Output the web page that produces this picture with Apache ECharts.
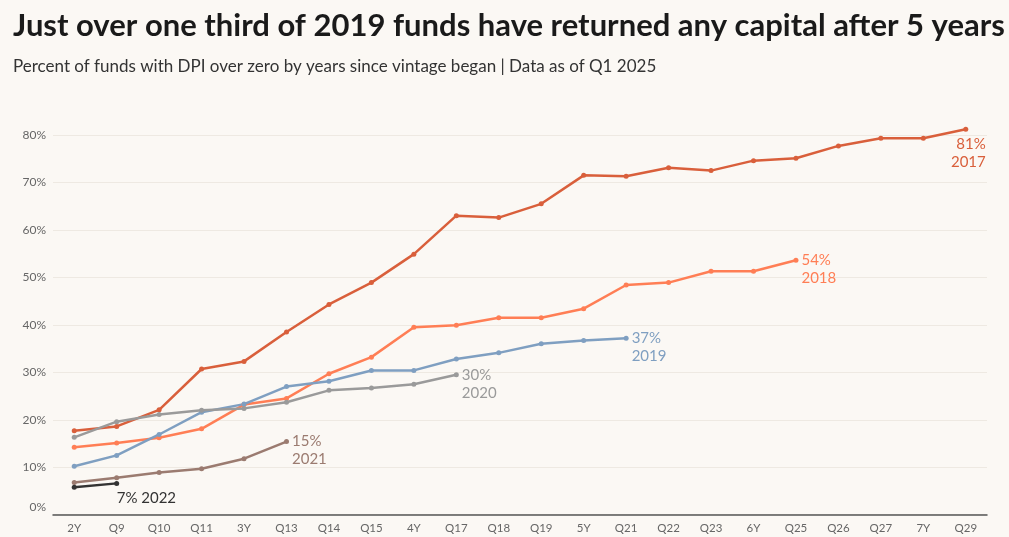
<!DOCTYPE html>
<html>
    <head>
        <title>dpi_over_zero</title>
        <script src="https://cdn.jsdelivr.net/npm/echarts@6/dist/echarts.min.js"></script>
        <style>
            html, body { margin: 0; padding: 0; background: #fbf8f4; }
            #main { width: 1009px; height: 537px; }
        </style>
    </head>
    <body>
        <div id="main"></div>
        <script>
            // quarters since vintage began
            var periods = ['2Y', 'Q9', 'Q10', 'Q11', '3Y', 'Q13', 'Q14', 'Q15', '4Y', 'Q17', 'Q18',
                           'Q19', '5Y', 'Q21', 'Q22', 'Q23', '6Y', 'Q25', 'Q26', 'Q27', '7Y', 'Q29'];
            var yTicks = [0, 10, 20, 30, 40, 50, 60, 70, 80];

            // percent of funds with DPI > 0
            var v2017 = [17.7, 18.6, 22.1, 30.7, 32.3, 38.5, 44.3, 48.9, 54.9, 63.0, 62.6,
                         65.5, 71.5, 71.3, 73.1, 72.5, 74.6, 75.1, 77.7, 79.3, 79.3, 81.2];
            var v2018 = [14.2, 15.1, 16.2, 18.1, 23.2, 24.5, 29.7, 33.2, 39.5, 39.9, 41.5,
                         41.5, 43.4, 48.4, 48.9, 51.3, 51.3, 53.6];
            var v2019 = [10.2, 12.5, 16.9, 21.6, 23.3, 27.0, 28.1, 30.4, 30.4, 32.8, 34.1,
                         36.0, 36.7, 37.2];
            var v2020 = [16.3, 19.6, 21.1, 22.0, 22.4, 23.7, 26.2, 26.7, 27.5, 29.5];
            var v2021 = [6.8, 7.8, 8.9, 9.7, 11.8, 15.4];
            var v2022 = [5.8, 6.6];

            var font = 'Lato, "Open Sans", sans-serif';

            function make_series(name, values, color, lbl) {
                var data = values.slice();
                var last = data.length - 1;
                var lab = {
                    show: true,
                    color: color,
                    fontFamily: font,
                    fontSize: 15,
                    lineHeight: 18,
                    formatter: function (p) { return Math.round(p.value) + '%\n' + name; }
                };
                for (var k in lbl) lab[k] = lbl[k];
                data[last] = { value: values[last], label: lab };
                return {
                    name: name,
                    type: 'line',
                    data: data,
                    clip: false,
                    symbol: 'circle',
                    symbolSize: 5,
                    lineStyle: { width: 2.5, color: color },
                    itemStyle: { color: color },
                    label: { show: false },
                    emphasis: { disabled: true },
                    z: 3
                };
            }

            var myChart = echarts.init(document.getElementById('main'));
            var option = {
                backgroundColor: '#fbf8f4',
                animation: false,
                title: {
                    text: 'Just over one third of 2019 funds have returned any capital after 5 years',
                    subtext: 'Percent of funds with DPI over zero by years since vintage began | Data as of Q1 2025',
                    left: 8,
                    top: -3,
                    itemGap: 4,
                    textStyle: { fontFamily: font, fontSize: 31, fontWeight: 'bold', color: '#1a1a1a' },
                    subtextStyle: { fontFamily: font, fontSize: 17, color: '#333' }
                },
                grid: { left: 53, right: 22, top: 135, bottom: 21 },
                xAxis: {
                    type: 'category',
                    data: periods,
                    boundaryGap: true,
                    axisTick: { show: false },
                    axisLine: { lineStyle: { color: '#555', width: 1.5 } },
                    axisLabel: { color: '#666', fontFamily: font, fontSize: 11.5, margin: 5, interval: 0 }
                },
                yAxis: {
                    type: 'value',
                    min: yTicks[0],
                    max: yTicks[yTicks.length - 1],
                    interval: 10,
                    axisLine: { show: false },
                    axisTick: { show: false },
                    splitLine: { lineStyle: { color: '#eee9e2', width: 1 } },
                    axisLabel: {
                        color: '#666', fontFamily: font, fontSize: 12, margin: 7,
                        formatter: function (v) { return v === 0 ? '{z|0%}' : v + '%'; },
                        rich: { z: { color: '#666', fontFamily: font, fontSize: 12, padding: [0, 0, 16, 0] } }
                    }
                },
                series: [
                    make_series('2017', v2017, '#d95f3b', { position: 'bottom', align: 'right', offset: [20, 0], distance: 3 }),
                    make_series('2018', v2018, '#ff7e55', { position: 'right', distance: 3, offset: [0, 9] }),
                    make_series('2019', v2019, '#7f9fc1', { position: 'right', distance: 3, offset: [0, 9] }),
                    make_series('2020', v2020, '#9a9a9a', { position: 'right', distance: 3, offset: [0, 9] }),
                    make_series('2021', v2021, '#9b7b70', { position: 'right', distance: 3, offset: [0, 9] }),
                    make_series('2022', v2022, '#333333', {
                        position: 'bottom', align: 'left', distance: 3, offset: [0, 0],
                        formatter: function (p) { return Math.round(p.value) + '% 2022'; }
                    })
                ]
            };
            myChart.setOption(option);
        </script>
    </body>
</html>
